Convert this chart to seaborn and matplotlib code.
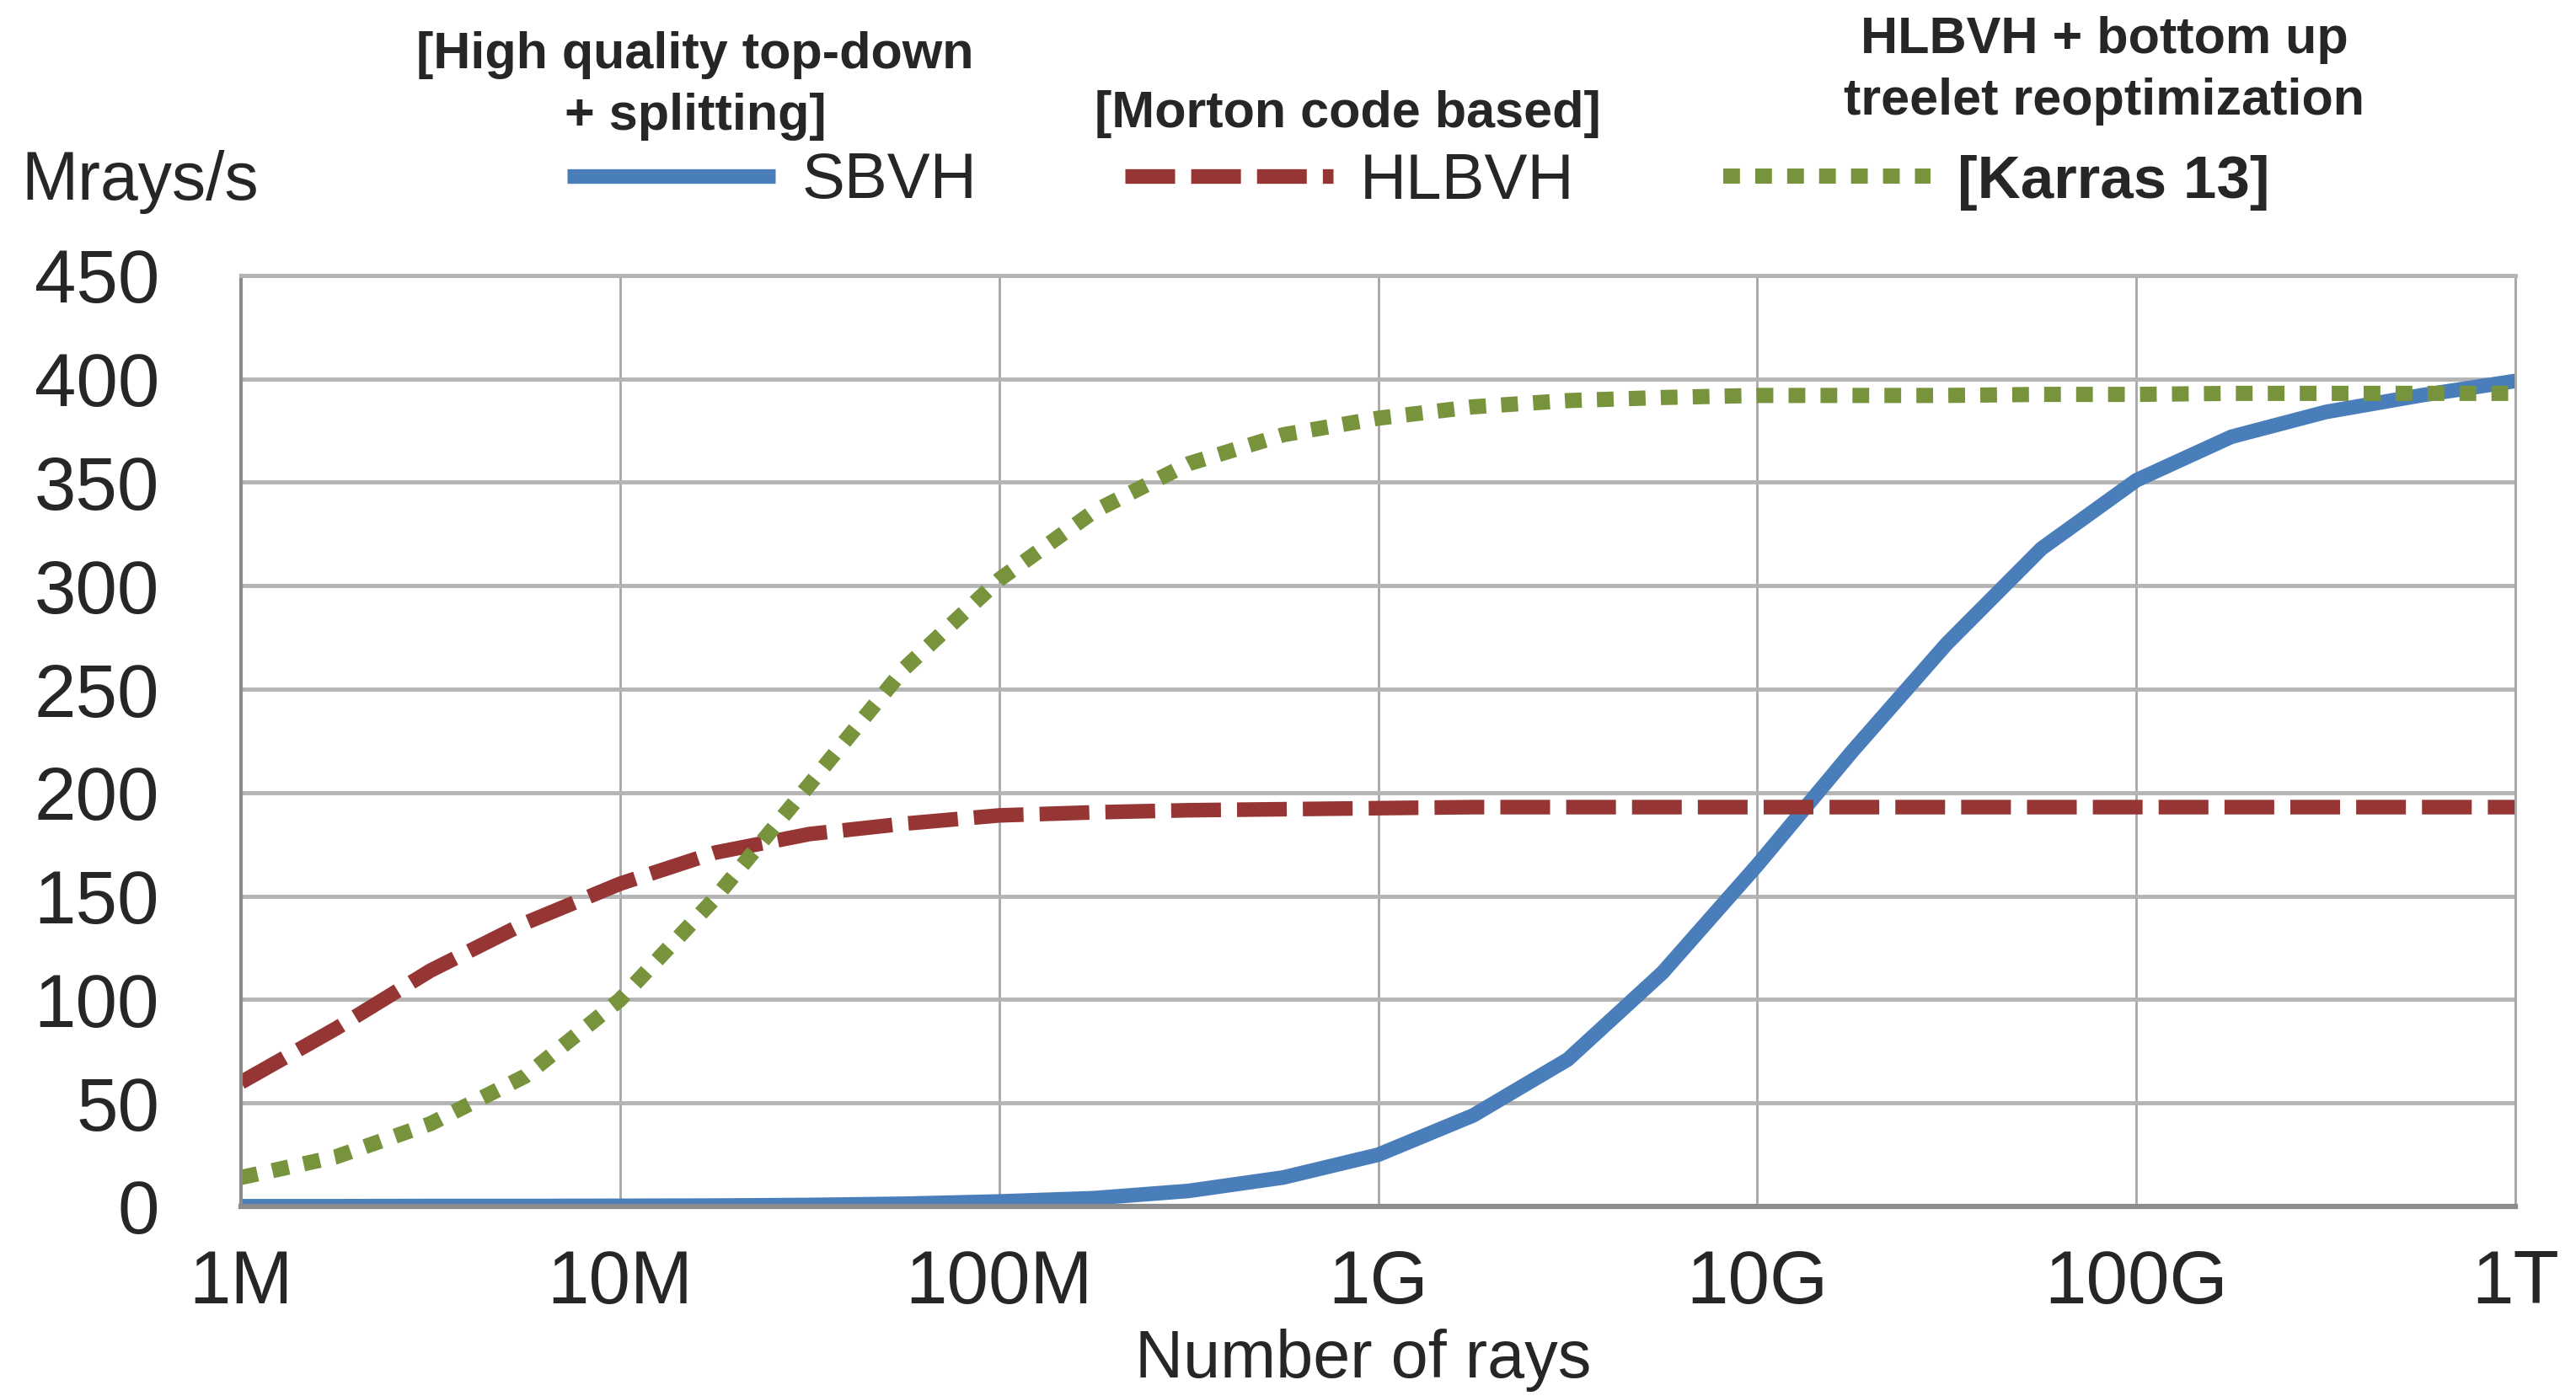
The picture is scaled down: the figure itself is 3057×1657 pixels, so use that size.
import matplotlib
matplotlib.use("Agg")
import pandas as pd
import seaborn as sns
import matplotlib.pyplot as plt

# data (quarter-decade samples from 1M to 1T rays)
rays = [1e6, 1.78e6, 3.16e6, 5.62e6,
        1e7, 1.78e7, 3.16e7, 5.62e7,
        1e8, 1.78e8, 3.16e8, 5.62e8,
        1e9, 1.78e9, 3.16e9, 5.62e9,
        1e10, 1.78e10, 3.16e10, 5.62e10,
        1e11, 1.78e11, 3.16e11, 5.62e11,
        1e12]
sbvh = [0.1, 0.1, 0.2, 0.2, 0.3, 0.4, 0.7, 1.3, 2.4, 4, 7.5, 14, 25,
        44, 71, 113, 165, 220, 272, 318, 351, 372, 384, 392, 399]
hlbvh = [60, 86, 114, 137, 156, 171, 180, 185, 189, 190.5, 191.5, 192, 192.5,
         193, 193, 193, 193, 193, 193, 193, 193, 193, 193, 193, 193]
karras = [14, 24, 40, 63, 100, 149, 204, 260, 303, 336, 359, 373, 381,
          386.5, 389.5, 391, 392, 392, 392, 392.5, 392.5, 393, 393, 393, 393]

methods = ["SBVH", "HLBVH", "[Karras 13]"]
xtick_vals = [1e6, 1e7, 1e8, 1e9, 1e10, 1e11, 1e12]
xtick_labels = ["1M", "10M", "100M", "1G", "10G", "100G", "1T"]
ytick_vals = [0, 50, 100, 150, 200, 250, 300, 350, 400, 450]

df = pd.DataFrame({
    "rays": rays * 3,
    "mrays": sbvh + hlbvh + karras,
    "method": [methods[0]] * len(rays) + [methods[1]] * len(rays) + [methods[2]] * len(rays),
})

sns.set_style("white")
plt.rcParams["font.family"] = ["Liberation Sans", "DejaVu Sans"]

fig = plt.figure(figsize=(30.57, 16.57), dpi=100)
ax = fig.add_axes([0.0936, 0.1358, 0.8829, 0.6669])

# line styles: (colour, width, dash pattern)
styles = {
    "SBVH": ("#4a7ebb", 12.5, None),
    "HLBVH": ("#963634", 12.5, (3.4, 1.1)),
    "[Karras 13]": ("#77933c", 13, (1.1, 1.0)),
}
for m in methods:
    color, lw, dash = styles[m]
    sns.lineplot(data=df[df["method"] == m], x="rays", y="mrays", color=color,
                 linewidth=lw, label=m, ax=ax, solid_capstyle="butt",
                 dash_capstyle="butt")
    if dash is not None:
        ax.lines[-1].set_dashes(dash)

ax.set_xscale("log")
ax.set_xlim(1e6, 1e12)
ax.set_ylim(0, 450)
ax.set_xticks(xtick_vals)
ax.set_xticklabels(xtick_labels)
ax.minorticks_off()
ax.set_yticks(ytick_vals)
ax.tick_params(axis="both", length=0, labelsize=64)
ax.tick_params(axis="y", pad=70)
ax.tick_params(axis="x", pad=36)

ax.grid(axis="y", color="#b4b4b4", linewidth=3.5)
ax.grid(axis="x", color="#a6a6a6", linewidth=2)
ax.set_axisbelow(True)
ax.spines["top"].set_color("#b4b4b4")
ax.spines["top"].set_linewidth(3.5)
ax.spines["right"].set_color("#a6a6a6")
ax.spines["right"].set_linewidth(2)
ax.spines["left"].set_color("#8c8c8c")
ax.spines["left"].set_linewidth(3)
ax.spines["bottom"].set_color("#8c8c8c")
ax.spines["bottom"].set_linewidth(4.5)
ax.set_xlabel("")
ax.set_ylabel("")

# legend across the top
leg = ax.legend(loc="center left", bbox_to_anchor=(673 / 3057, 1 - 216 / 1657),
                bbox_transform=fig.transFigure, ncol=3, frameon=False,
                fontsize=55, handlelength=3.23, handletextpad=0.42,
                columnspacing=2.3, borderpad=0, borderaxespad=0)
for line in leg.get_lines():
    line.set_solid_capstyle("butt")
    line.set_dash_capstyle("butt")
leg_texts = leg.get_texts()
leg_texts[2].set_fontweight("bold")
leg_texts[2].set_fontsize(51)

# axis titles
fig.text(25 / 3057, 1 - 216 / 1657, "Mrays/s", fontsize=58, ha="left", va="center")
fig.text(1618 / 3057, 1 - 1614 / 1657, "Number of rays", fontsize=57,
         ha="center", va="center")

# method descriptions
fig.text(825 / 3057, 1 - 102 / 1657, "[High quality top-down\n+ splitting]",
         fontsize=44, fontweight="bold", ha="center", va="center",
         linespacing=1.38)
fig.text(1599 / 3057, 1 - 136 / 1657, "[Morton code based]", fontsize=44,
         fontweight="bold", ha="center", va="center")
fig.text(2497 / 3057, 1 - 84 / 1657, "HLBVH + bottom up\ntreelet reoptimization",
         fontsize=44, fontweight="bold", ha="center", va="center",
         linespacing=1.38)

plt.savefig("out.png", dpi=100, facecolor="white")
